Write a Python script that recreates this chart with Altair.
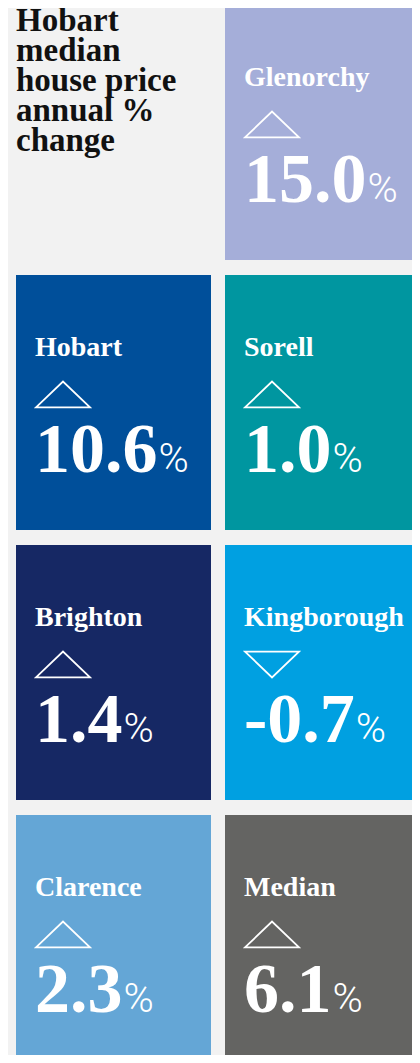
import altair as alt
import pandas as pd

# ---- data -------------------------------------------------------------
title_lines = ["Hobart", "median", "house price", "annual %", "change"]
areas = ["Glenorchy", "Hobart", "Sorell", "Brighton", "Kingborough", "Clarence", "Median"]
changes = [15.0, 10.6, 1.0, 1.4, -0.7, 2.3, 6.1]
colors = ["#a5aed9", "#004f9a", "#0096a0", "#162864", "#00a0e1", "#64a6d6", "#646462"]

# grid slots: slot 0 holds the title, tiles fill slots 1..7 (2 columns)
slots = list(range(1, len(areas) + 1))

df = pd.DataFrame({"area": areas, "change": changes, "color": colors, "slot": slots})
df["col"] = df["slot"] % 2
df["row"] = df["slot"] // 2
df["label"] = df["change"].map(lambda v: f"{v:.1f}")
df["dir"] = ["up" if v >= 0 else "down" for v in changes]

# approximate advance widths (em) of Liberation Serif Bold, to place the "%"
GLYPH_EM = {**{str(d): 0.5 for d in range(10)}, ".": 0.25, "-": 0.333}
VALUE_SIZE = 70
df["pct_dx"] = df["label"].map(lambda s: 19 + VALUE_SIZE * sum(GLYPH_EM[c] for c in s) + 1)

title_df = pd.DataFrame({"title": ["\n".join(title_lines)], "col": [0], "row": [0]})

# ---- scales -----------------------------------------------------------
xs = alt.Scale(domain=[0, 1], range=[8, 412], paddingInner=14 / 209, paddingOuter=0)
ys = alt.Scale(domain=[0, 1, 2, 3], range=[-3, 1062], paddingInner=15 / 270, paddingOuter=0)

UP = "M-1,0.48L0,-0.48L1,0.48Z"
DOWN = "M-1,-0.48L0,0.48L1,-0.48Z"

def X(bp=0.0):
    return alt.X("col:O", scale=xs, axis=None, bandPosition=bp)

def Y(bp=0.0):
    return alt.Y("row:O", scale=ys, axis=None, bandPosition=bp)

base = alt.Chart(df)

tiles = base.mark_rect().encode(
    x=alt.X("col:O", scale=xs, axis=None),
    y=alt.Y("row:O", scale=ys, axis=None),
    fill=alt.Fill("color:N", scale=None),
)

labels = base.mark_text(
    align="left", baseline="alphabetic", dx=19, dy=81,
    font="Liberation Serif", fontWeight="bold", fontSize=28, color="white",
).encode(x=X(), y=Y(), text="area:N")

values = base.mark_text(
    align="left", baseline="alphabetic", dx=19, dy=197,
    font="Liberation Serif", fontWeight="bold", fontSize=VALUE_SIZE, color="white",
).encode(x=X(), y=Y(), text="label:N")

pct = base.mark_text(
    align="left", baseline="alphabetic", dy=197,
    font="Roboto", fontWeight=300, fontSize=41, color="white",
).encode(
    x=X(), y=Y(),
    xOffset=alt.XOffset("pct_dx:Q", scale=None),
    text=alt.value("%"),
)

arrows = base.mark_point(
    filled=False, stroke="white", strokeWidth=1.8, size=2916, opacity=1,
).encode(
    x=X(47 / 195), y=Y(119.5 / 255),
    shape=alt.Shape("dir:N", scale=alt.Scale(domain=["up", "down"], range=[UP, DOWN]), legend=None),
)

title = alt.Chart(title_df).mark_text(
    align="left", baseline="alphabetic", dy=26, lineBreak="\n", lineHeight=30,
    font="Liberation Serif", fontWeight="bold", fontSize=33, color="#111111",
).encode(x=X(), y=Y(), text="title:N")

chart = alt.layer(tiles, title, labels, arrows, values, pct).properties(
    width=404, height=1047,
    autosize=alt.AutoSizeParams(type="none"),
    padding=0,
    background="#f2f2f2",
).configure_view(stroke=None)

chart.save("out.html", embed_options={"renderer": "svg", "actions": False})
